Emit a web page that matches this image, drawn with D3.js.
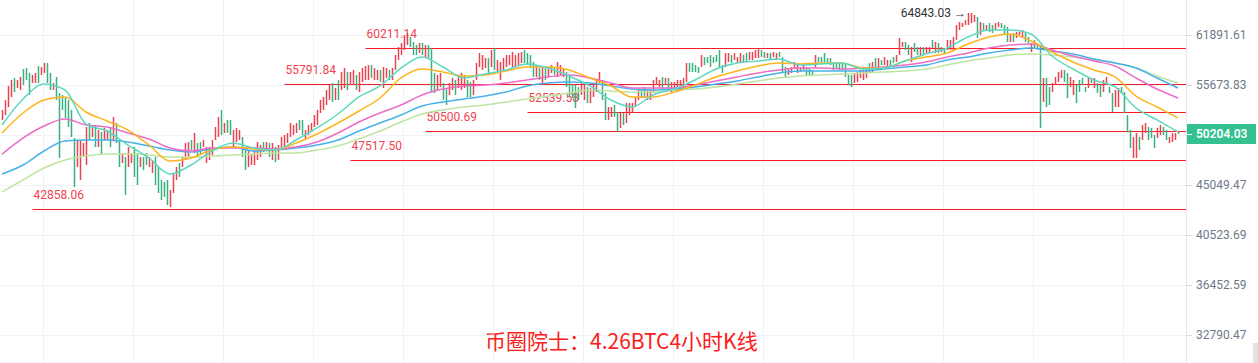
<!DOCTYPE html>
<html>
<head>
<meta charset="utf-8">
<script src="https://cdn.jsdelivr.net/npm/d3@7"></script>
<style>
  body { margin: 0; background: #fff; }
  svg { display: block; font-family: Roboto, "Noto Sans", sans-serif; }
</style>
</head>
<body>
<svg id="chart" width="1258" height="363"></svg>
<script>
// BTC 4h candles, prices in thousands of USD
const highs = [
  52.80,53.93,55.56,56.27,56.51,56.27,56.63,57.59,57.71,57.11, 56.87,57.11,57.96,57.84,58.33,58.33,57.11,55.91,56.63,54.74,
  54.51,54.28,53.93,52.80,49.76,49.55,49.55,49.24,50.94,51.37, 51.15,51.15,50.61,50.40,50.83,50.61,50.94,52.03,51.37,49.55,
  48.21,47.80,48.82,48.21,48.82,48.21,47.80,47.80,48.21,47.80, 47.50,47.80,46.80,45.53,45.34,45.53,44.58,46.21,46.80,47.20,
  47.80,49.24,49.34,49.55,50.29,49.24,49.34,49.55,48.82,48.82, 49.55,50.94,52.03,52.80,51.37,51.70,51.70,50.61,50.83,50.61,
  49.87,48.51,48.51,48.00,48.51,49.34,49.03,49.34,49.34,49.24, 49.24,48.82,49.03,49.87,50.08,50.29,51.37,51.15,51.37,51.70,
  51.70,50.61,51.15,51.37,52.25,52.80,53.93,54.28,55.09,55.67, 55.91,55.32,56.27,57.23,57.71,57.23,57.23,57.47,56.87,57.23,
  57.71,57.96,58.08,58.08,57.71,57.47,57.47,57.84,57.71,57.47, 57.71,59.33,60.34,60.85,61.89,62.16,61.63,60.98,60.60,60.85,
  60.85,60.60,60.60,60.21,57.11,56.87,57.11,55.91,55.32,55.91, 56.51,56.27,56.87,57.11,56.87,56.27,56.03,56.27,58.33,59.58,
  59.33,58.95,58.95,59.96,60.21,58.70,58.45,58.95,59.33,59.33, 59.70,59.33,59.58,59.70,59.96,59.58,59.33,58.45,58.08,57.71,
  57.84,57.84,57.84,58.08,57.84,58.45,58.08,57.71,57.23,56.63, 55.67,55.67,55.44,55.91,56.03,55.44,55.32,55.67,56.27,57.23,
  56.27,54.74,53.14,53.14,53.37,52.58,52.47,52.47,53.59,53.59, 53.59,54.28,55.32,55.09,55.44,55.09,55.09,56.27,56.63,56.27,
  56.63,56.51,56.51,56.03,56.03,56.27,56.27,56.51,58.33,58.33, 58.33,58.08,57.84,59.33,59.07,59.07,59.33,59.07,59.33,59.96,
  58.08,59.58,59.58,59.33,59.58,59.07,59.58,59.33,59.58,59.70, 59.70,59.96,60.21,59.96,59.70,59.58,59.58,59.70,59.58,59.70,
  59.07,57.84,57.71,57.84,58.45,58.33,57.84,58.08,57.84,57.71, 57.47,59.33,59.07,59.07,59.58,58.95,58.95,58.45,58.33,58.45,
  58.45,58.33,56.87,56.87,57.11,57.23,57.47,57.47,57.71,58.33, 58.45,58.95,58.95,58.70,59.07,58.70,58.70,59.07,59.33,61.50,
  60.98,60.98,60.60,60.34,60.85,60.34,60.34,60.34,60.34,60.34, 61.24,60.98,60.85,60.34,60.21,61.24,61.24,61.63,63.22,63.62,
  63.48,63.89,64.843,64.84,64.57,64.30,63.62,63.48,63.22,63.48, 63.22,63.48,63.62,63.48,63.22,62.95,61.89,62.16,62.29,62.29,
  62.55,62.29,61.63,60.85,61.24,60.85,60.60,56.51,56.51,55.44, 55.91,56.63,57.23,57.47,57.47,57.11,56.63,56.27,55.67,56.27,
  56.51,55.44,56.63,56.51,56.51,55.91,55.67,56.27,56.63,55.44, 54.74,55.09,55.32,55.44,54.85,52.25,50.61,49.87,50.29,49.87,
  51.15,51.37,50.94,50.83,50.08,50.83,51.15,50.94,50.61,49.87, 50.29,50.29,50.40
];
const lows = [
  51.70,52.25,53.14,54.28,54.85,55.32,55.09,55.67,56.27,54.51, 55.91,55.91,55.91,56.87,57.11,55.91,55.09,55.09,53.93,47.70,
  52.80,51.92,50.94,49.87,44.86,46.80,45.53,47.80,47.00,49.55, 49.87,48.82,48.82,48.00,49.55,49.55,48.82,49.55,49.24,46.80,
  47.20,44.11,46.80,47.20,45.82,45.05,46.80,46.50,47.00,46.80, 46.21,45.05,44.29,43.64,43.92,43.18,43.00,44.29,45.53,45.82,
  46.80,47.50,47.80,48.51,48.21,47.80,48.00,48.82,47.20,47.50, 48.00,49.55,49.87,50.08,50.29,50.29,50.08,48.82,49.34,49.55,
  47.80,46.50,46.80,47.00,47.00,47.50,47.80,48.31,48.51,47.80, 47.50,47.30,47.50,48.51,48.82,49.24,49.87,50.08,50.29,50.61,
  50.08,49.55,50.08,50.40,50.94,51.15,52.47,52.80,53.37,53.93, 53.71,53.93,53.93,55.09,55.32,55.09,55.67,55.67,55.09,54.85,
  56.03,56.27,56.27,56.51,56.27,56.27,56.03,55.32,56.51,56.27, 56.27,57.47,58.70,59.33,59.96,60.60,60.34,59.33,59.33,59.58,
  59.33,59.07,58.95,54.85,54.74,55.09,55.44,53.93,53.37,54.51, 55.09,54.51,55.32,55.09,55.32,54.28,54.28,54.51,56.27,57.84,
  57.47,57.71,57.11,57.84,57.47,57.23,56.27,57.47,57.84,58.08, 57.84,57.84,58.08,58.33,58.33,58.08,57.71,56.63,56.63,56.27,
  55.91,56.27,56.63,57.11,56.87,56.63,56.87,56.63,55.44,54.28, 54.16,53.03,53.93,54.51,53.93,53.59,53.59,54.28,54.85,55.91,
  53.93,51.70,51.70,52.03,52.03,50.40,50.83,51.15,51.37,52.25, 52.47,53.14,53.93,54.16,54.16,53.93,53.93,54.74,55.67,55.44,
  55.09,55.67,55.09,54.85,55.09,54.85,55.32,55.32,56.03,57.23, 57.23,57.23,57.11,57.84,58.08,58.33,57.84,58.33,58.45,57.84,
  57.11,57.84,58.45,58.33,58.70,58.33,58.45,58.33,58.45,58.70, 58.70,58.95,58.95,59.07,58.95,58.95,58.70,59.07,58.70,59.07,
  57.23,56.63,56.87,57.11,57.71,57.11,57.23,57.47,56.87,56.87, 56.87,57.84,58.45,58.33,58.45,58.33,58.08,57.47,57.71,57.47,
  57.47,56.63,55.67,55.44,55.91,56.03,56.51,56.27,56.51,57.23, 57.23,57.84,57.84,58.08,58.08,57.84,57.84,58.33,58.45,59.33,
  60.34,59.96,59.33,58.45,59.70,59.33,59.33,59.33,59.58,59.58, 60.21,59.58,59.58,59.70,59.58,59.96,59.96,59.96,61.24,62.55,
  62.95,63.22,63.22,63.48,63.62,61.50,61.89,62.55,62.55,62.29, 62.16,62.55,62.95,62.82,61.89,60.98,60.98,60.98,61.50,61.89,
  61.63,60.98,60.85,59.70,60.21,59.96,50.83,53.71,53.14,53.37, 54.85,55.67,56.03,56.51,56.03,54.16,55.44,54.51,53.59,54.85,
  55.67,54.85,55.32,55.91,55.32,54.74,54.28,54.85,55.91,54.74, 52.58,53.14,53.14,54.74,52.47,50.40,48.72,47.70,47.70,48.51,
  49.55,50.29,49.55,49.76,48.72,49.76,50.08,50.08,49.55,49.24, 49.34,49.55,50.19
];
// r = closed above open (red), g = closed below open (green)
const dirs =
  "rrrrgrrggg" + "rrgrrggrgg" + "gggggrrrrg" + "rgrgrrgrgg" + "rgrrggrggr" +
  "rgggggrrrg" + "rrrgrggrrr" + "rrrgrggrrr" + "ggrrrrrgrg" + "rgrrrrrrrg" +
  "grrrrrrrrr" + "grgrrgrrgr" + "rrrgrrgrrg" + "rrrrrrgggr" + "grgggrrggr" +
  "rgrrrggrrr" + "rrgrgrrrrr" + "rrrrggggrg" + "rgrrgrrrgg" + "gggrrgrrrr" +
  "ggrrggrgrr" + "rrrggrrrrr" + "grgrrrrrrg" + "gggrgggggg" + "grrgrrrggr" +
  "rrrggrgrrg" + "ggrrrrgrgg" + "grgggggggg" + "ggggrrrrrg" + "rgrgrrggrr" +
  "rggrggrgrr" + "grgrgrrrrr" + "rrrrrgrgrg" + "grrgggrgrr" + "rggrgggrgg" +
  "rrrrggrrgg" + "ggrgrggrrg" + "grrggggrrg" + "rrgggrrggr" + "rrg";

// moving averages, one value every maStep candles (thousands of USD)
const maStep = 7;
const maCyan = [51.15,54.05,55.79,55.09,51.26,50.51,49.03,47.70,46.11,47.00,48.41,49.24,48.72,48.51,49.55,50.83,52.36,54.28,55.56,57.71,
  59.07,57.84,56.51,56.99,57.47,58.21,57.71,56.75,55.56,53.93,53.14,54.51,55.20,56.27,57.59,58.33,58.58,58.82,58.08,58.21,
  58.33,57.59,57.71,58.58,59.45,60.21,61.63,62.55,62.55,62.02,59.20,57.59,56.27,55.44,53.03,51.70,50.40];
const maOrange = [50.29,52.47,53.93,54.28,52.58,51.59,50.61,49.03,47.40,47.70,48.51,48.82,48.62,48.51,49.24,50.19,51.37,52.69,54.16,56.51,
  57.59,57.23,56.75,56.87,57.35,57.84,57.84,57.47,56.51,55.56,54.28,54.28,54.85,55.67,56.63,57.35,57.96,58.33,58.21,58.33,
  58.33,57.71,57.71,58.58,59.07,59.58,60.72,61.63,62.02,61.11,59.70,58.45,57.47,56.63,54.39,53.14,51.92];
const maPink = [48.10,49.76,51.04,51.81,51.15,50.94,50.29,49.66,48.72,48.41,48.72,48.72,48.72,48.62,48.82,49.34,50.29,51.48,52.47,53.37,
  54.51,55.20,55.56,55.67,55.91,56.27,56.63,56.87,56.51,55.91,55.32,55.32,55.32,55.67,56.15,56.63,57.11,57.47,57.71,57.71,
  57.59,57.71,57.84,58.08,58.45,59.07,59.58,60.21,60.60,60.72,59.96,59.20,58.58,57.96,56.51,55.20,54.16];
const maBlue = [46.11,47.00,48.41,49.45,49.55,49.55,49.34,48.93,48.51,48.31,48.62,48.82,48.41,48.51,48.72,49.03,49.55,50.50,51.37,52.25,
  53.25,53.71,54.05,54.39,54.85,55.56,55.91,56.03,55.91,55.56,55.20,55.09,55.20,55.44,55.79,56.15,56.63,57.11,57.35,57.35,
  57.35,57.35,57.59,57.84,58.08,58.70,59.07,59.58,59.96,60.21,59.83,59.45,58.82,58.33,57.71,56.51,55.32];
const maGreen = [44.39,45.53,46.70,47.50,47.90,48.10,48.10,48.00,47.80,47.80,47.90,48.00,48.10,48.21,48.21,48.51,48.93,49.66,50.50,51.48,
  52.36,52.80,53.14,53.37,53.71,54.05,54.39,54.74,55.09,54.97,54.85,54.85,55.09,55.20,55.44,55.79,56.15,56.51,56.75,56.87,
  56.99,57.11,57.23,57.35,57.59,58.08,58.58,58.95,59.33,59.45,59.33,59.07,58.70,58.33,57.71,56.75,55.91];

const axisTicks = [61891.61, 55673.83, 50080.55, 45049.47, 40523.69, 36452.59, 32790.47];
const lastPrice = 50204.03;
const levels = [60211.14, 55791.84, 52539.58, 50500.69, 47517.50, 42858.06];
const levelFrom = [121, 94, 175, 141, 116, 10];   // candle index where each level line starts
const peakPrice = 64843.03;
const peakIndex = 322;
const title = "币圈院士：4.26BTC4小时K线";

const W = 1258, H = 363, axisX = 1186;
const n = highs.length;
const svg = d3.select('#chart');

const x = d3.scaleLinear().domain([0, n - 1]).range([2, 1178]);
const y = d3.scaleLog().domain([32790.47, 61891.61]).range([335, 35]);
const px = i => Math.round(x(i)) + 0.5;
const py = v => Math.round(y(v)) + 0.5;

// grid
const grid = svg.append('g').attr('stroke', '#eff2f6').attr('stroke-width', 1);
d3.range(0, 13).forEach(k => {
  const gx = Math.round(x(13.67 + 30 * k)) + 0.5;
  grid.append('line').attr('x1', gx).attr('x2', gx).attr('y1', 0).attr('y2', H);
});
axisTicks.forEach(t => {
  grid.append('line').attr('x1', 0).attr('x2', axisX).attr('y1', py(t)).attr('y2', py(t));
});

svg.append('clipPath').attr('id', 'plot')
  .append('rect').attr('x', 0).attr('y', 0).attr('width', axisX).attr('height', H);
const plot = svg.append('g').attr('clip-path', 'url(#plot)');

// support / resistance levels
const lv = plot.append('g');
levels.forEach((v, i) => {
  lv.append('line')
    .attr('x1', px(levelFrom[i])).attr('x2', axisX)
    .attr('y1', py(v)).attr('y2', py(v))
    .attr('stroke', '#f81c24').attr('stroke-width', 1.2);
  lv.append('text')
    .attr('x', px(levelFrom[i]) + 1).attr('y', py(v) - 11)
    .attr('fill', '#f0434f').attr('font-size', 12)
    .text(v.toFixed(2));
});

// candles
plot.append('g').selectAll('line')
  .data(d3.range(n))
  .join('line')
  .attr('x1', i => px(i)).attr('x2', i => px(i))
  .attr('y1', i => y(highs[i] * 1000)).attr('y2', i => y(lows[i] * 1000))
  .attr('stroke', i => dirs[i] === 'r' ? '#e9434f' : '#3aaf7f')
  .attr('stroke-width', 1.5);

// moving averages
const maSeries = [
  { values: maGreen, color: '#bde5a0' },
  { values: maBlue, color: '#47b1ea' },
  { values: maPink, color: '#ee6cc6' },
  { values: maOrange, color: '#ffb41f' },
  { values: maCyan, color: '#5cd8c0' }
];
const maLine = d3.line()
  .x((d, k) => x(k * maStep))
  .y(d => y(d * 1000))
  .curve(d3.curveMonotoneX);
plot.append('g').selectAll('path')
  .data(maSeries)
  .join('path')
  .attr('d', d => maLine(d.values))
  .attr('fill', 'none')
  .attr('stroke', d => d.color)
  .attr('stroke-width', 1.5);

// peak marker
plot.append('text')
  .attr('x', x(peakIndex) - 2).attr('y', y(peakPrice) + 4)
  .attr('text-anchor', 'end')
  .attr('fill', '#333').attr('font-size', 12)
  .text(peakPrice.toFixed(2) + ' \u2192');

// right axis
svg.append('line')
  .attr('x1', axisX + 0.5).attr('x2', axisX + 0.5).attr('y1', 0).attr('y2', H)
  .attr('stroke', '#e3e7ed');
const axis = svg.append('g')
  .attr('transform', `translate(${axisX},0)`)
  .call(d3.axisRight(y).tickValues(axisTicks).tickSize(6).tickPadding(4)
    .tickFormat(d => d.toFixed(2)));
axis.select('.domain').remove();
axis.selectAll('.tick line').attr('stroke', '#d5dae1');
axis.selectAll('.tick text')
  .attr('fill', '#6f7888').attr('font-size', 12)
  .attr('font-family', 'Roboto, "Noto Sans", sans-serif');

// current price tag
const ly = y(lastPrice);
svg.append('rect')
  .attr('x', axisX + 1).attr('y', Math.round(ly) - 10)
  .attr('width', W - axisX - 3).attr('height', 20)
  .attr('fill', '#33c190');
svg.append('line')
  .attr('x1', axisX + 1).attr('x2', axisX + 6)
  .attr('y1', Math.round(ly) + 0.5).attr('y2', Math.round(ly) + 0.5)
  .attr('stroke', '#fff');
svg.append('text')
  .attr('x', axisX + 10).attr('y', ly + 4.5)
  .attr('fill', '#fff').attr('font-size', 12).attr('font-weight', 600)
  .text(lastPrice.toFixed(2));

svg.append('rect')
  .attr('x', W - 5).attr('y', H - 20).attr('width', 5).attr('height', 20)
  .attr('fill', '#e2e2e2');

// caption
svg.append('text')
  .attr('x', 485).attr('y', 349)
  .attr('fill', '#fb2020').attr('font-size', 21)
  .attr('font-family', '"Noto Sans CJK SC", "Noto Sans", sans-serif')
  .text(title);
</script>
</body>
</html>
